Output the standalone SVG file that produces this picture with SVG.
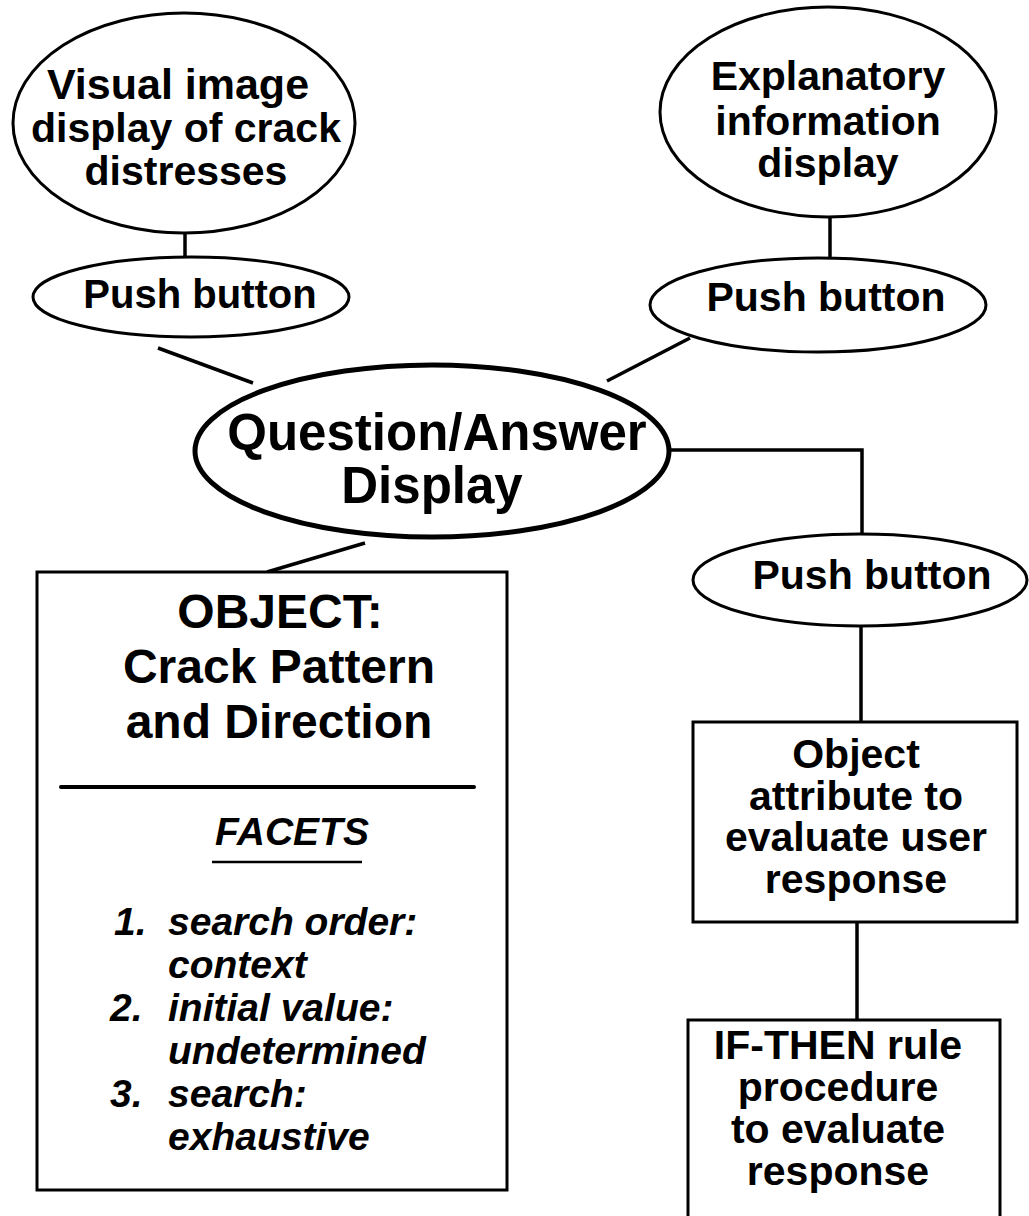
<svg xmlns="http://www.w3.org/2000/svg" width="1029" height="1216" viewBox="0 0 1029 1216">
<style>
.sh{fill:#fff;stroke:#000;stroke-width:3}
.thick{stroke-width:5}
.t{font-family:"Liberation Sans",Arial,sans-serif;font-weight:bold;fill:#000;text-anchor:middle}
.it{font-family:"Liberation Sans",Arial,sans-serif;font-weight:bold;font-style:italic;fill:#000}
.c{stroke:#000;stroke-width:3.5;fill:none}
</style>
<rect width="1029" height="1216" fill="#fff"/>
<g id="connectors">
<line class="c" x1="185" y1="232" x2="185" y2="258"/>
<line class="c" x1="158" y1="348" x2="253" y2="383"/>
<line class="c" x1="830" y1="216" x2="830" y2="258"/>
<line class="c" x1="690" y1="338" x2="607" y2="381"/>
<polyline class="c" points="669,450 862,450 862,535"/>
<line class="c" x1="861" y1="625" x2="861" y2="722"/>
<line class="c" x1="365" y1="543" x2="267" y2="572"/>
<line class="c" x1="857" y1="922" x2="857" y2="1020"/>
</g>
<g id="visual">
<ellipse class="sh" cx="184" cy="123" rx="171" ry="110"/>
<text class="t" font-size="43" x="178" y="99">Visual image</text>
<text class="t" font-size="41" x="186" y="142">display of crack</text>
<text class="t" font-size="41" x="186" y="185">distresses</text>
</g>
<g id="pb1">
<ellipse class="sh" cx="191" cy="297" rx="158" ry="40"/>
<text class="t" font-size="40" x="200" y="308">Push button</text>
</g>
<g id="explanatory">
<ellipse class="sh" cx="828" cy="112" rx="168" ry="105"/>
<text class="t" font-size="41" x="828" y="90">Explanatory</text>
<text class="t" font-size="41" x="828" y="135">information</text>
<text class="t" font-size="41" x="828" y="177">display</text>
</g>
<g id="pb2">
<ellipse class="sh" cx="818" cy="305" rx="168" ry="47"/>
<text class="t" font-size="41" x="826" y="311">Push button</text>
</g>
<g id="qa">
<ellipse class="sh thick" cx="432" cy="451" rx="237" ry="86"/>
<text class="t" font-size="51" x="437" y="450">Question/Answer</text>
<text class="t" font-size="51" x="432" y="503">Display</text>
</g>
<g id="pb3">
<ellipse class="sh" cx="860" cy="580" rx="167" ry="46"/>
<text class="t" font-size="41" x="872" y="589">Push button</text>
</g>
<g id="object">
<rect class="sh" x="37" y="572" width="470" height="618"/>
<text class="t" font-size="48" x="280" y="628">OBJECT:</text>
<text class="t" font-size="48" x="279" y="683">Crack Pattern</text>
<text class="t" font-size="48" x="279" y="738">and Direction</text>
<line x1="61" y1="787" x2="474" y2="787" stroke="#000" stroke-width="4" stroke-linecap="round"/>
<text class="it" font-size="39" x="292" y="845" text-anchor="middle">FACETS</text>
<line x1="212" y1="862" x2="362" y2="862" stroke="#000" stroke-width="2.5"/>
<text class="it" font-size="39" x="114" y="935">1.</text>
<text class="it" font-size="39" x="168" y="935">search order:</text>
<text class="it" font-size="39" x="168" y="978">context</text>
<text class="it" font-size="39" x="110" y="1021">2.</text>
<text class="it" font-size="39" x="168" y="1021">initial value:</text>
<text class="it" font-size="39" x="168" y="1064">undetermined</text>
<text class="it" font-size="39" x="110" y="1107">3.</text>
<text class="it" font-size="39" x="168" y="1107">search:</text>
<text class="it" font-size="39" x="168" y="1150">exhaustive</text>
</g>
<g id="attribute">
<rect class="sh" x="693" y="722" width="324" height="200"/>
<text class="t" font-size="41" x="856" y="768">Object</text>
<text class="t" font-size="41" x="856" y="810">attribute to</text>
<text class="t" font-size="41" x="856" y="851">evaluate user</text>
<text class="t" font-size="41" x="856" y="893">response</text>
</g>
<g id="ifthen">
<rect class="sh" x="688" y="1020" width="312" height="210"/>
<text class="t" font-size="41" x="838" y="1059">IF-THEN rule</text>
<text class="t" font-size="41" x="838" y="1101">procedure</text>
<text class="t" font-size="41" x="838" y="1143">to evaluate</text>
<text class="t" font-size="41" x="838" y="1185">response</text>
</g>
</svg>
